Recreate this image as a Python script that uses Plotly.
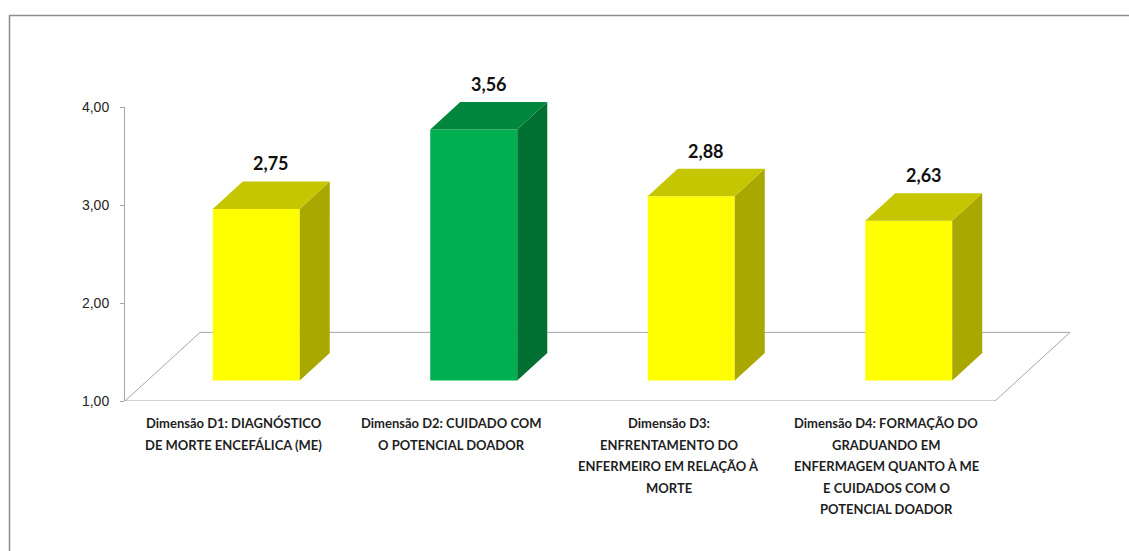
import plotly.graph_objects as go

# ---- data ----
categories = [
    ["Dimensão D1: DIAGNÓSTICO", "DE MORTE ENCEFÁLICA (ME)"],
    ["Dimensão D2: CUIDADO COM", "O POTENCIAL DOADOR"],
    ["Dimensão D3:", "ENFRENTAMENTO DO", "ENFERMEIRO EM RELAÇÃO À", "MORTE"],
    ["Dimensão D4: FORMAÇÃO DO", "GRADUANDO EM", "ENFERMAGEM QUANTO À ME",
     "E CUIDADOS COM O", "POTENCIAL DOADOR"],
]
values = [2.75, 3.56, 2.88, 2.63]
y_ticks = [1, 2, 3, 4]
y_tick_labels = ["1,00", "2,00", "3,00", "4,00"]

# ---- style ----
front_colors = ["#FFFF00", "#00B050", "#FFFF00", "#FFFF00"]
top_colors = ["#C6C600", "#00863D", "#C6C600", "#C6C600"]
side_colors = ["#A8A800", "#006F32", "#A8A800", "#A8A800"]
GRID = "#A6A6A6"
TEXT = "#1F1F1F"
LABEL_FONT = "Lato, Arial, sans-serif"
LINE_STEP = 21.5      # px between category label lines

W, H = 1129, 551
M_L, M_R, M_T, M_B = 125, 39, 40, 150
PLOT_W = W - M_L - M_R
PLOT_H = H - M_T - M_B
PX_X = 217.5          # pixels per category
PX_Y = 98.0           # pixels per value unit
BASE = 1.0            # floor value

x_lo = -0.5
x_hi = x_lo + PLOT_W / PX_X
y_hi = BASE + PLOT_H / PX_Y

# oblique depth of the floor (in axis units) and where the bars sit in it
DX = 75 / PX_X
DY = 68.6 / PX_Y
D0, D1 = 0.3, 0.7
HALF_W = 0.2
n = len(values)

fig = go.Figure()

# floor outline
floor = [(x_lo, BASE), (x_lo + DX, BASE + DY), (n - 0.5 + DX, BASE + DY),
         (n - 0.5, BASE), (x_lo, BASE)]
fig.add_shape(type="path", xref="x", yref="y", layer="below",
              path="M " + " L ".join(f"{px},{py}" for px, py in floor),
              line=dict(color=GRID, width=1))

# bar front faces
fig.add_trace(go.Bar(
    x=[i + D0 * DX for i in range(n)],
    y=[v - BASE for v in values],
    base=[BASE + D0 * DY] * n,
    width=[2 * HALF_W] * n,
    marker=dict(color=front_colors, line=dict(width=0)),
    hoverinfo="skip", showlegend=False,
))

# bar side and top faces, value labels
for i, v in enumerate(values):
    xl = i - HALF_W
    xr = i + HALF_W
    side_x = [xr + D0 * DX, xr + D1 * DX, xr + D1 * DX, xr + D0 * DX, xr + D0 * DX]
    side_y = [BASE + D0 * DY, BASE + D1 * DY, v + D1 * DY, v + D0 * DY, BASE + D0 * DY]
    fig.add_trace(go.Scatter(x=side_x, y=side_y, mode="lines", fill="toself",
                             fillcolor=side_colors[i], line=dict(width=0),
                             hoverinfo="skip", showlegend=False))
    top_x = [xl + D0 * DX, xr + D0 * DX, xr + D1 * DX, xl + D1 * DX, xl + D0 * DX]
    top_y = [v + D0 * DY, v + D0 * DY, v + D1 * DY, v + D1 * DY, v + D0 * DY]
    fig.add_trace(go.Scatter(x=top_x, y=top_y, mode="lines", fill="toself",
                             fillcolor=top_colors[i], line=dict(width=0),
                             hoverinfo="skip", showlegend=False))
    fig.add_annotation(x=i + (D0 + D1) / 2 * DX, y=v + D1 * DY, xref="x", yref="y",
                       text=f"{v:.2f}".replace(".", ","), showarrow=False,
                       yanchor="middle", yshift=18,
                       font=dict(family=LABEL_FONT, size=18, color="#111111", weight="bold"))

# category labels under the floor, one line each
for i, lines in enumerate(categories):
    for k, line in enumerate(lines):
        fig.add_annotation(x=i, y=BASE, xref="x", yref="y", text=line,
                           showarrow=False, xanchor="center", yanchor="middle",
                           yshift=-(22 + k * LINE_STEP),
                           font=dict(family=LABEL_FONT, size=13, color=TEXT, weight="bold"))

# empty trace so the value axis is laid out
fig.add_trace(go.Scatter(x=[None], y=[None], xaxis="x", yaxis="y2",
                         mode="markers", hoverinfo="skip", showlegend=False))

# chart-area border
def px2paper_x(p):
    return (p - M_L) / PLOT_W

def px2paper_y(p):
    return (H - M_B - p) / PLOT_H

fig.add_shape(type="rect", xref="paper", yref="paper",
              x0=px2paper_x(9.5), x1=px2paper_x(W + 20),
              y0=px2paper_y(H + 20), y1=px2paper_y(15.5),
              line=dict(color="#8C8C8C", width=1.5), layer="below")

fig.update_layout(
    width=W, height=H,
    margin=dict(l=M_L, r=M_R, t=M_T, b=M_B),
    paper_bgcolor="white", plot_bgcolor="rgba(0,0,0,0)",
    barmode="overlay", showlegend=False,
    xaxis=dict(range=[x_lo, x_hi], showticklabels=False,
               showgrid=False, zeroline=False, showline=False, ticks=""),
    xaxis2=dict(range=[x_lo, x_hi], overlaying="x", anchor="y", side="bottom",
                tickvals=[k - 0.5 for k in range(n + 1)], showticklabels=False,
                ticks="outside", ticklen=5, tickcolor=GRID, tickwidth=1,
                showgrid=False, zeroline=False, showline=False),
    yaxis=dict(range=[BASE, y_hi], domain=[0, 1], visible=False, fixedrange=True),
    yaxis2=dict(range=[y_ticks[0], y_ticks[-1]], anchor="x",
                domain=[0, (y_ticks[-1] - y_ticks[0]) * PX_Y / PLOT_H],
                tickvals=y_ticks, ticktext=y_tick_labels,
                ticks="outside", ticklen=4, tickcolor=GRID,
                ticklabelstandoff=8,
                showline=True, linecolor=GRID, linewidth=1,
                showgrid=False, zeroline=False,
                tickfont=dict(family="Liberation Sans, Arial, sans-serif", size=14, color="#262626")),
)

fig.write_html("out.html")
